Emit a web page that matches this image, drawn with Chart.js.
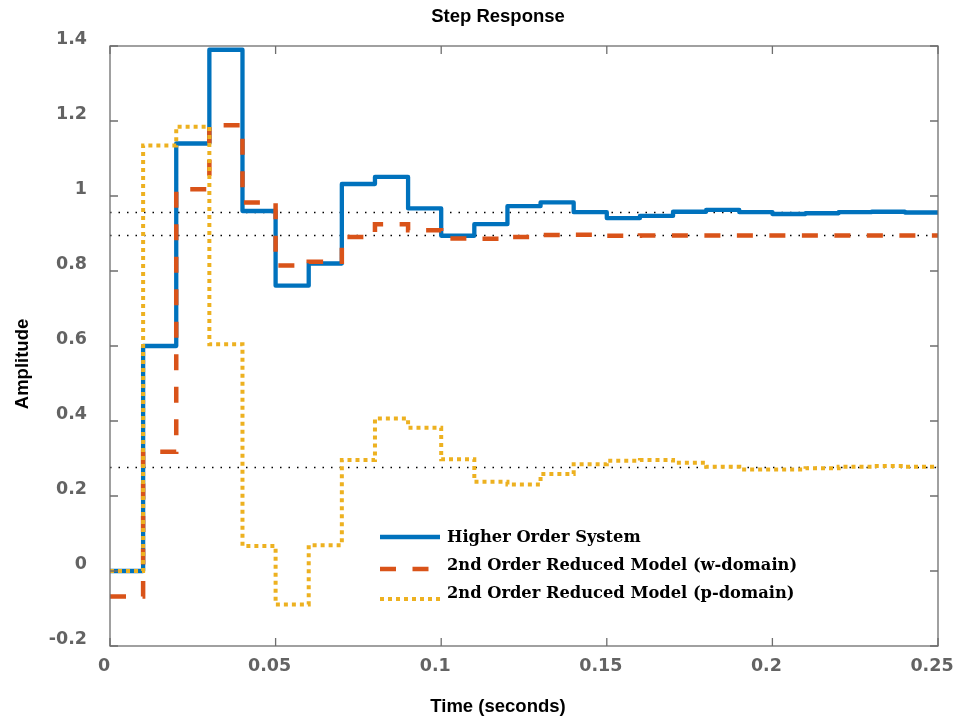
<!DOCTYPE html>
<html><head><meta charset="utf-8">
<script src="https://cdn.jsdelivr.net/npm/chart.js@4.4.1/dist/chart.umd.min.js"></script>
<style>html,body{margin:0;padding:0;background:#fff}#wrap{width:954px;height:723px}</style>
</head><body><div id="wrap"><canvas id="c" width="954" height="723"></canvas></div>
<script>
// ---- data ----
const timeSec = [0, 0.01, 0.02, 0.03, 0.04, 0.05, 0.06, 0.07, 0.08, 0.09, 0.10, 0.11, 0.12,
                 0.13, 0.14, 0.15, 0.16, 0.17, 0.18, 0.19, 0.20, 0.21, 0.22, 0.23, 0.24, 0.25];
const higherOrder = [0, 0.600, 1.140, 1.390, 0.960, 0.761, 0.820, 1.032, 1.051, 0.967, 0.894, 0.925, 0.973,
                     0.983, 0.957, 0.941, 0.947, 0.958, 0.963, 0.957, 0.952, 0.954, 0.957, 0.958, 0.956, 0.956];
const reducedW = [-0.068, 0.318, 1.018, 1.189, 0.983, 0.815, 0.825, 0.891, 0.925, 0.909, 0.887, 0.886, 0.891,
                  0.896, 0.897, 0.894, 0.895, 0.895, 0.895, 0.895, 0.895, 0.895, 0.895, 0.895, 0.895, 0.895];
const reducedP = [0, 1.135, 1.185, 0.605, 0.067, -0.089, 0.069, 0.296, 0.407, 0.382, 0.298, 0.238, 0.231,
                  0.259, 0.285, 0.294, 0.296, 0.289, 0.278, 0.271, 0.271, 0.274, 0.278, 0.280, 0.278, 0.277];
const finalValues = [0.956, 0.895, 0.276];
const seriesNames = ['Higher Order System', '2nd Order Reduced Model (w-domain)', '2nd Order Reduced Model (p-domain)'];
const xTicks = [0, 0.05, 0.1, 0.15, 0.2, 0.25];
const xTickLabels = ['0', '0.05', '0.1', '0.15', '0.2', '0.25'];
const yTicks = [-0.2, 0, 0.2, 0.4, 0.6, 0.8, 1, 1.2, 1.4];
const yTickLabels = ['-0.2', '0', '0.2', '0.4', '0.6', '0.8', '1', '1.2', '1.4'];
const chartTitle = 'Step Response';
const xTitle = 'Time (seconds)';
const yTitle = 'Amplitude';

// ---- styles ----
const colors = ['#0072BD', '#D95319', '#EDB120'];
const tickFont = {family: 'DejaVu Sans', weight: 'bold', size: 17.5};
const tickColor = '#636363';
const axisColor = '#6e6e6e';

const pts = arr => timeSec.map((t, i) => ({x: t, y: arr[i]}));
const refLine = v => [{x: timeSec[0], y: v}, {x: timeSec[timeSec.length - 1], y: v}];

const datasets = [
  {label: seriesNames[0], data: pts(higherOrder), borderColor: colors[0], borderWidth: 4.3,
   stepped: true, pointRadius: 0, order: 3, borderJoinStyle: 'round', borderCapStyle: 'butt'},
  {label: seriesNames[1], data: pts(reducedW), borderColor: colors[1], borderWidth: 4.5,
   borderDash: [16, 16.5], stepped: true, pointRadius: 0, order: 2, borderJoinStyle: 'miter'},
  {label: seriesNames[2], data: pts(reducedP), borderColor: colors[2], borderWidth: 4,
   borderDash: [4, 4], stepped: true, pointRadius: 0, order: 1, borderJoinStyle: 'miter'},
  ...finalValues.map(v => ({label: '_ref', data: refLine(v), borderColor: '#000', borderWidth: 1.5,
   borderDash: [1.5, 7], pointRadius: 0, order: 10}))
];

const frame = {
  id: 'frame',
  afterDatasetsDraw(chart) {
    const {ctx, chartArea: a, scales: {x, y}} = chart;
    ctx.save();
    ctx.strokeStyle = axisColor;
    ctx.lineWidth = 1.3;
    ctx.strokeRect(a.left, a.top, a.right - a.left, a.bottom - a.top);
    const L = 8;
    ctx.beginPath();
    xTicks.forEach(v => {
      const p = x.getPixelForValue(v);
      ctx.moveTo(p, a.bottom); ctx.lineTo(p, a.bottom - L);
      ctx.moveTo(p, a.top); ctx.lineTo(p, a.top + L);
    });
    yTicks.forEach(v => {
      const p = y.getPixelForValue(v);
      ctx.moveTo(a.left, p); ctx.lineTo(a.left + L, p);
      ctx.moveTo(a.right, p); ctx.lineTo(a.right - L, p);
    });
    ctx.stroke();

    // legend inside the axes
    const rows = [{ly: 537, ty: 541.5}, {ly: 569, ty: 569.5}, {ly: 599, ty: 598}];
    ctx.font = 'bold 16.3px "DejaVu Serif"';
    ctx.fillStyle = '#000';
    ctx.textBaseline = 'alphabetic';
    ctx.textAlign = 'left';
    rows.forEach((r, i) => {
      const ds = chart.data.datasets[i];
      ctx.save();
      ctx.strokeStyle = ds.borderColor;
      ctx.lineWidth = ds.borderWidth;
      ctx.setLineDash(ds.borderDash || []);
      ctx.beginPath(); ctx.moveTo(380, r.ly); ctx.lineTo(440, r.ly); ctx.stroke();
      ctx.restore();
      ctx.fillText(ds.label, 447, r.ty);
    });

    // axis titles
    ctx.font = 'bold 18.5px "Liberation Sans"';
    ctx.textAlign = 'center';
    ctx.fillText(xTitle, 498, 712);
    ctx.translate(28, 364);
    ctx.rotate(-Math.PI / 2);
    ctx.fillText(yTitle, 0, 0);
    ctx.restore();
  }
};

new Chart(document.getElementById('c'), {
  type: 'line',
  data: {datasets},
  options: {
    responsive: false, animation: false, devicePixelRatio: 1,
    layout: {padding: {left: 42, right: 0, top: 0, bottom: 0}},
    plugins: {
      legend: {display: false},
      tooltip: {enabled: false},
      title: {display: true, text: chartTitle, color: '#000',
              font: {family: 'Liberation Sans', weight: 'bold', size: 18.5},
              padding: {top: 5.5, bottom: 18.3}}
    },
    scales: {
      x: {type: 'linear', position: 'bottom', min: 0, max: 0.25,
          grid: {display: false, drawTicks: false}, border: {display: false},
          afterBuildTicks: s => { s.ticks = xTicks.map(v => ({value: v})); },
          afterFit: s => { s.height = 77; s.paddingLeft = 0; s.paddingRight = 0; },
          ticks: {font: tickFont, color: tickColor, padding: 10, labelOffset: -6, maxRotation: 0,
                  autoSkip: false, callback: v => xTickLabels[xTicks.indexOf(v)]}},
      y: {type: 'linear', position: 'left', min: -0.2, max: 1.4,
          grid: {display: false, drawTicks: false}, border: {display: false},
          afterBuildTicks: s => { s.ticks = yTicks.map(v => ({value: v})); },
          afterFit: s => { s.width = 68; s.paddingTop = 0; s.paddingBottom = 0; },
          ticks: {font: tickFont, color: tickColor, padding: 23, labelOffset: -7,
                  autoSkip: false, callback: v => yTickLabels[yTicks.indexOf(v)]}},
      yRight: {type: 'linear', position: 'right', display: true,
          grid: {display: false, drawTicks: false}, border: {display: false},
          ticks: {display: false},
          afterFit: s => { s.width = 16; s.paddingTop = 0; s.paddingBottom = 0; }}
    }
  },
  plugins: [frame]
});
</script>
</body></html>
